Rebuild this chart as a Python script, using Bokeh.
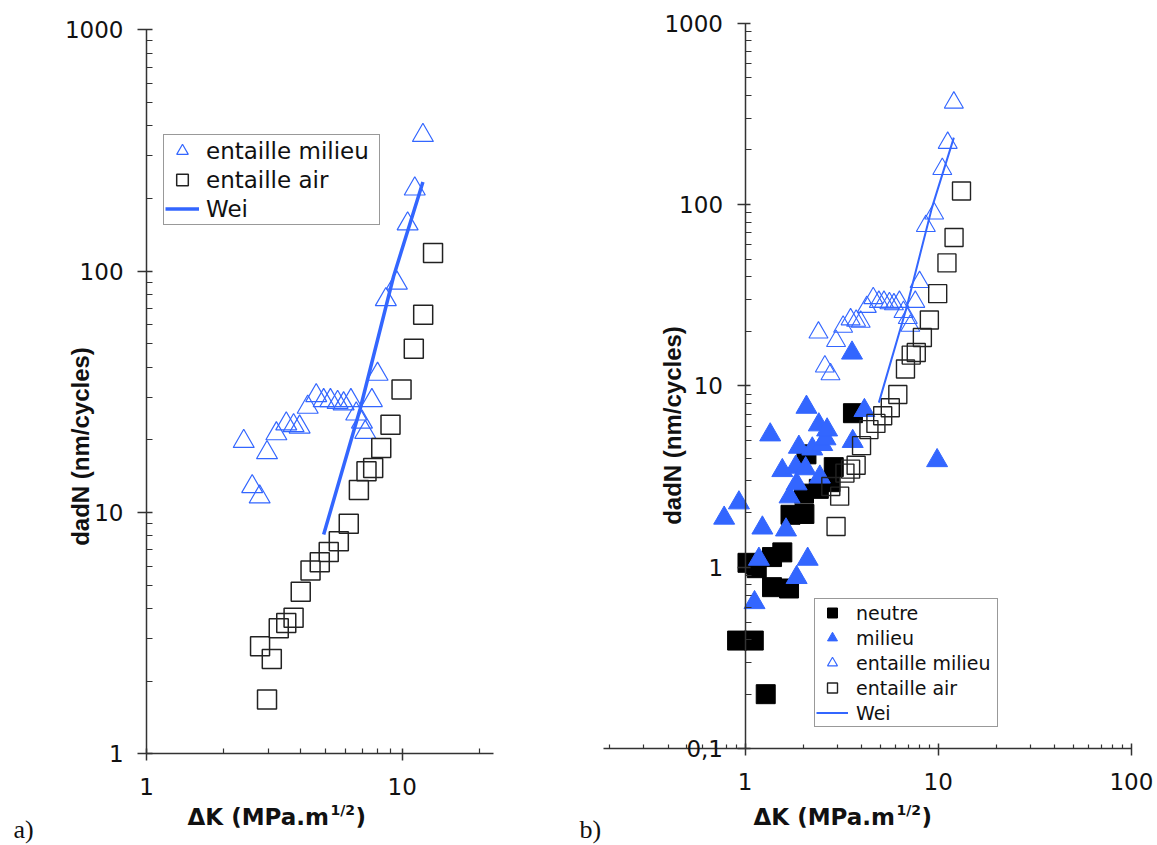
from bokeh.plotting import figure
from bokeh.models import (Range1d, FixedTicker, Label, Legend, LegendItem,
                          CustomJSTickFormatter)
from bokeh.layouts import row
from bokeh.embed import file_html
from bokeh.resources import INLINE

# ---------------- data ----------------
# "entaille milieu" (open blue triangles) - both panels
em_dk = [2.40, 2.59, 2.77, 2.96, 3.22, 3.52, 3.76, 3.97, 4.27, 4.61, 4.93, 5.24, 5.59,
         5.90, 6.30, 6.61, 6.96, 7.17, 7.61, 8.01, 8.63, 9.53, 10.5, 11.2, 12.05]
em_dadn = [19.7, 12.8, 11.6, 17.7, 21.2, 23.3, 22.9, 22.6, 27.3, 30.5, 29.1, 29.1, 28.6,
           28.2, 29.1, 25.6, 23.7, 21.5, 29.1, 37.4, 76.2, 89.3, 157, 219, 365]

# "entaille air" (open black squares) - both panels
ea_dk = [2.96, 2.78, 3.09, 3.29, 3.52, 3.76, 4.01, 4.38, 4.76, 5.16, 5.65, 6.18, 6.77,
         7.25, 7.70, 8.28, 9.00, 9.94, 11.1, 12.08, 13.2]
ea_dadn = [1.68, 2.79, 2.47, 3.31, 3.48, 3.66, 4.69, 5.75, 6.22, 6.85, 7.59, 8.98, 12.4,
           14.8, 15.3, 18.5, 23.1, 32.3, 47.7, 65.9, 118.8]

# "Wei" model line
wei_dk = [4.93, 6.85, 9.25, 12.05]
wei_dadn = [8.1, 26.9, 95.0, 234.0]

# "neutre" (filled black squares) - panel b
neutre_dk = [0.91, 1.11, 1.28, 1.03, 1.13, 1.15, 1.38, 1.56, 1.38, 1.69, 1.72, 2.03,
             2.02, 2.41, 2.77, 2.88, 2.08, 3.62]
neutre_dadn = [0.395, 0.395, 0.20, 1.06, 1.04, 0.99, 1.14, 1.21, 0.778, 0.765, 1.95, 1.97,
               2.55, 2.71, 2.95, 3.57, 4.20, 7.08]

# "milieu" (filled blue triangles) - panel b
milieu_dk = [0.78, 0.93, 1.12, 1.18, 1.23, 1.35, 1.63, 1.56, 1.70, 1.83, 1.85, 1.85, 1.90,
             2.06, 2.08, 2.11, 2.23, 2.41, 2.44, 2.51, 2.61, 2.66, 3.58, 3.61, 4.15, 9.87]
milieu_dadn = [1.87, 2.27, 0.64, 1.11, 1.65, 5.38, 1.61, 3.42, 2.45, 3.57, 0.88, 2.89, 4.60,
               3.50, 7.64, 1.11, 4.50, 6.11, 3.15, 4.76, 5.12, 5.73, 15.2, 4.95, 7.33, 3.88]

# ticks
ya_major = [1, 10, 100, 1000]
ya_minor = [m * d for d in (1, 10, 100) for m in range(2, 10)]
xa_major = [1, 10]
xa_minor = [2, 3, 4, 5, 6, 7, 8, 9, 20]
yb_major = [0.1, 1, 10, 100, 1000]
yb_minor = [m * d for d in (0.1, 1, 10, 100) for m in range(2, 10)]
xb_major = [1, 10, 100]
xb_minor = [m * d for d in (0.1, 1, 10) for m in range(2, 10)]

BLUE = "#3366ff"
AXC = "#333333"
TXT = "#111111"
FMT = CustomJSTickFormatter(code="return tick < 1 ? tick.toString().replace('.', ',') : tick.toFixed(0);")
H = 845  # canvas height; every frame covers its whole canvas


def style_axes(p, ytick_out, ytick_in, xtick_out, xtick_in, xminor_in):
    for ax in (p.xaxis[0], p.yaxis[0]):
        ax.axis_line_color = AXC
        ax.axis_line_width = 1.5
        ax.major_tick_line_color = AXC
        ax.minor_tick_line_color = AXC
        ax.major_tick_line_width = 1.5
        ax.minor_tick_line_width = 1.2
        ax.major_label_text_font = "DejaVu Sans"
        ax.major_label_text_font_size = "23px"
        ax.major_label_text_color = TXT
        ax.formatter = FMT
    y = p.yaxis[0]
    y.major_tick_out = ytick_out
    y.major_tick_in = ytick_in
    y.minor_tick_in = 6
    y.minor_tick_out = 0
    y.major_label_standoff = 14
    x = p.xaxis[0]
    x.major_tick_out = xtick_out
    x.major_tick_in = xtick_in
    x.minor_tick_in = xminor_in
    x.minor_tick_out = 0
    x.major_label_standoff = 17
    p.xgrid.visible = False
    p.ygrid.visible = False
    p.outline_line_color = None


def add_xlabel(p, x0, yc):
    p.add_layout(Label(x=x0, y=yc, x_units="screen", y_units="screen", text="\u0394K (MPa.m",
                       text_font="DejaVu Sans", text_font_style="bold", text_font_size="23px",
                       text_align="left", text_baseline="middle", text_color=TXT))
    p.add_layout(Label(x=x0 + 143, y=yc + 7, x_units="screen", y_units="screen", text="1/2",
                       text_font="DejaVu Sans", text_font_style="bold", text_font_size="14px",
                       text_align="left", text_baseline="middle", text_color=TXT))
    p.add_layout(Label(x=x0 + 168, y=yc, x_units="screen", y_units="screen", text=")",
                       text_font="DejaVu Sans", text_font_style="bold", text_font_size="23px",
                       text_align="left", text_baseline="middle", text_color=TXT))


def add_ylabel(p, xc, yc):
    p.add_layout(Label(x=xc, y=yc, x_units="screen", y_units="screen", text="dadN (nm/cycles)",
                       angle=90, angle_units="deg", text_font="Liberation Sans",
                       text_font_style="bold", text_font_size="24px", text_align="center",
                       text_baseline="middle", text_color=TXT))


def add_tag(p, x0, yc, txt):
    p.add_layout(Label(x=x0, y=yc, x_units="screen", y_units="screen", text=txt,
                       text_font="Liberation Serif", text_font_size="26px",
                       text_align="left", text_baseline="middle", text_color=TXT))


def make_fig(w, xr, yr):
    return figure(width=w, height=H, x_axis_type="log", y_axis_type="log",
                  x_range=Range1d(*xr), y_range=Range1d(*yr), title=None,
                  output_backend="svg", toolbar_location=None,
                  min_border_left=0, min_border_right=0, min_border_top=0, min_border_bottom=0)


# ---------------- panel a ----------------
pa = make_fig(560, (0.2685, 41.6), (0.417, 1322))
style_axes(pa, 9, 6, 7, 5, 5)
pa.yaxis[0].fixed_location = 1
pa.yaxis[0].bounds = (1, 1000)
pa.xaxis[0].fixed_location = 1
pa.xaxis[0].bounds = (1, 22.8)
pa.yaxis[0].ticker = FixedTicker(ticks=ya_major, minor_ticks=ya_minor)
pa.xaxis[0].ticker = FixedTicker(ticks=xa_major, minor_ticks=xa_minor)

ra_em = pa.scatter(em_dk, em_dadn, marker="triangle", size=21, fill_color=None,
                   line_color=BLUE, line_width=1.2)
ra_ea = pa.scatter(ea_dk, ea_dadn, marker="square", size=19, fill_color=None,
                   line_color="#222222", line_width=1.5)
ra_wei = pa.line(wei_dk, wei_dadn, line_color=BLUE, line_width=3.5)

leg_a = Legend(items=[LegendItem(label="entaille milieu", renderers=[ra_em]),
                      LegendItem(label="entaille air", renderers=[ra_ea]),
                      LegendItem(label="Wei", renderers=[ra_wei])],
               location=(163, H - 225), glyph_width=34, glyph_height=29, spacing=0, padding=1,
               margin=0, label_standoff=7, label_width=172, label_height=29,
               label_text_font="DejaVu Sans", label_text_font_size="23px",
               label_text_color=TXT,
               border_line_color=AXC, border_line_width=1.5,
               background_fill_color="white", background_fill_alpha=1.0)
pa.add_layout(leg_a)
add_ylabel(pa, 80, H - 446)
add_xlabel(pa, 187, H - 816)
add_tag(pa, 13, H - 829, "a)")

# ---------------- panel b ----------------
pb = make_fig(597, (0.1109, 136.5), (0.0293, 1334))
style_axes(pb, 8, 5, 7, 5, 4)
pb.yaxis[0].fixed_location = 1
pb.yaxis[0].bounds = (0.1, 1000)
pb.xaxis[0].fixed_location = 0.1
pb.xaxis[0].bounds = (0.185, 100)
pb.yaxis[0].ticker = FixedTicker(ticks=yb_major, minor_ticks=yb_minor)
pb.xaxis[0].ticker = FixedTicker(ticks=xb_major, minor_ticks=xb_minor)

rb_ne = pb.scatter(neutre_dk, neutre_dadn, marker="square", size=19, fill_color="black",
                   line_color="black", line_width=1)
rb_mi = pb.scatter(milieu_dk, milieu_dadn, marker="triangle", size=21, fill_color=BLUE,
                   line_color=BLUE, line_width=1)
rb_em = pb.scatter(em_dk, em_dadn, marker="triangle", size=19, fill_color=None,
                   line_color=BLUE, line_width=1.1)
rb_ea = pb.scatter(ea_dk, ea_dadn, marker="square", size=18, fill_color=None,
                   line_color="#222222", line_width=1.4)
rb_wei = pb.line(wei_dk, wei_dadn, line_color=BLUE, line_width=2)

leg_b = Legend(items=[LegendItem(label="neutre", renderers=[rb_ne]),
                      LegendItem(label="milieu", renderers=[rb_mi]),
                      LegendItem(label="entaille milieu", renderers=[rb_em]),
                      LegendItem(label="entaille air", renderers=[rb_ea]),
                      LegendItem(label="Wei", renderers=[rb_wei])],
               location=(254, H - 727), glyph_width=32, glyph_height=25, spacing=0, padding=1,
               margin=0, label_standoff=8, label_width=140, label_height=25,
               label_text_font="DejaVu Sans", label_text_font_size="19px",
               label_text_color=TXT,
               border_line_color=AXC, border_line_width=1.5,
               background_fill_color="white", background_fill_alpha=1.0)
pb.add_layout(leg_b)
add_ylabel(pb, 112, H - 425)
add_xlabel(pb, 193, H - 816)
add_tag(pb, 19, H - 829, "b)")

layout = row(pa, pb)
open("out.html", "w").write(file_html(layout, INLINE))
